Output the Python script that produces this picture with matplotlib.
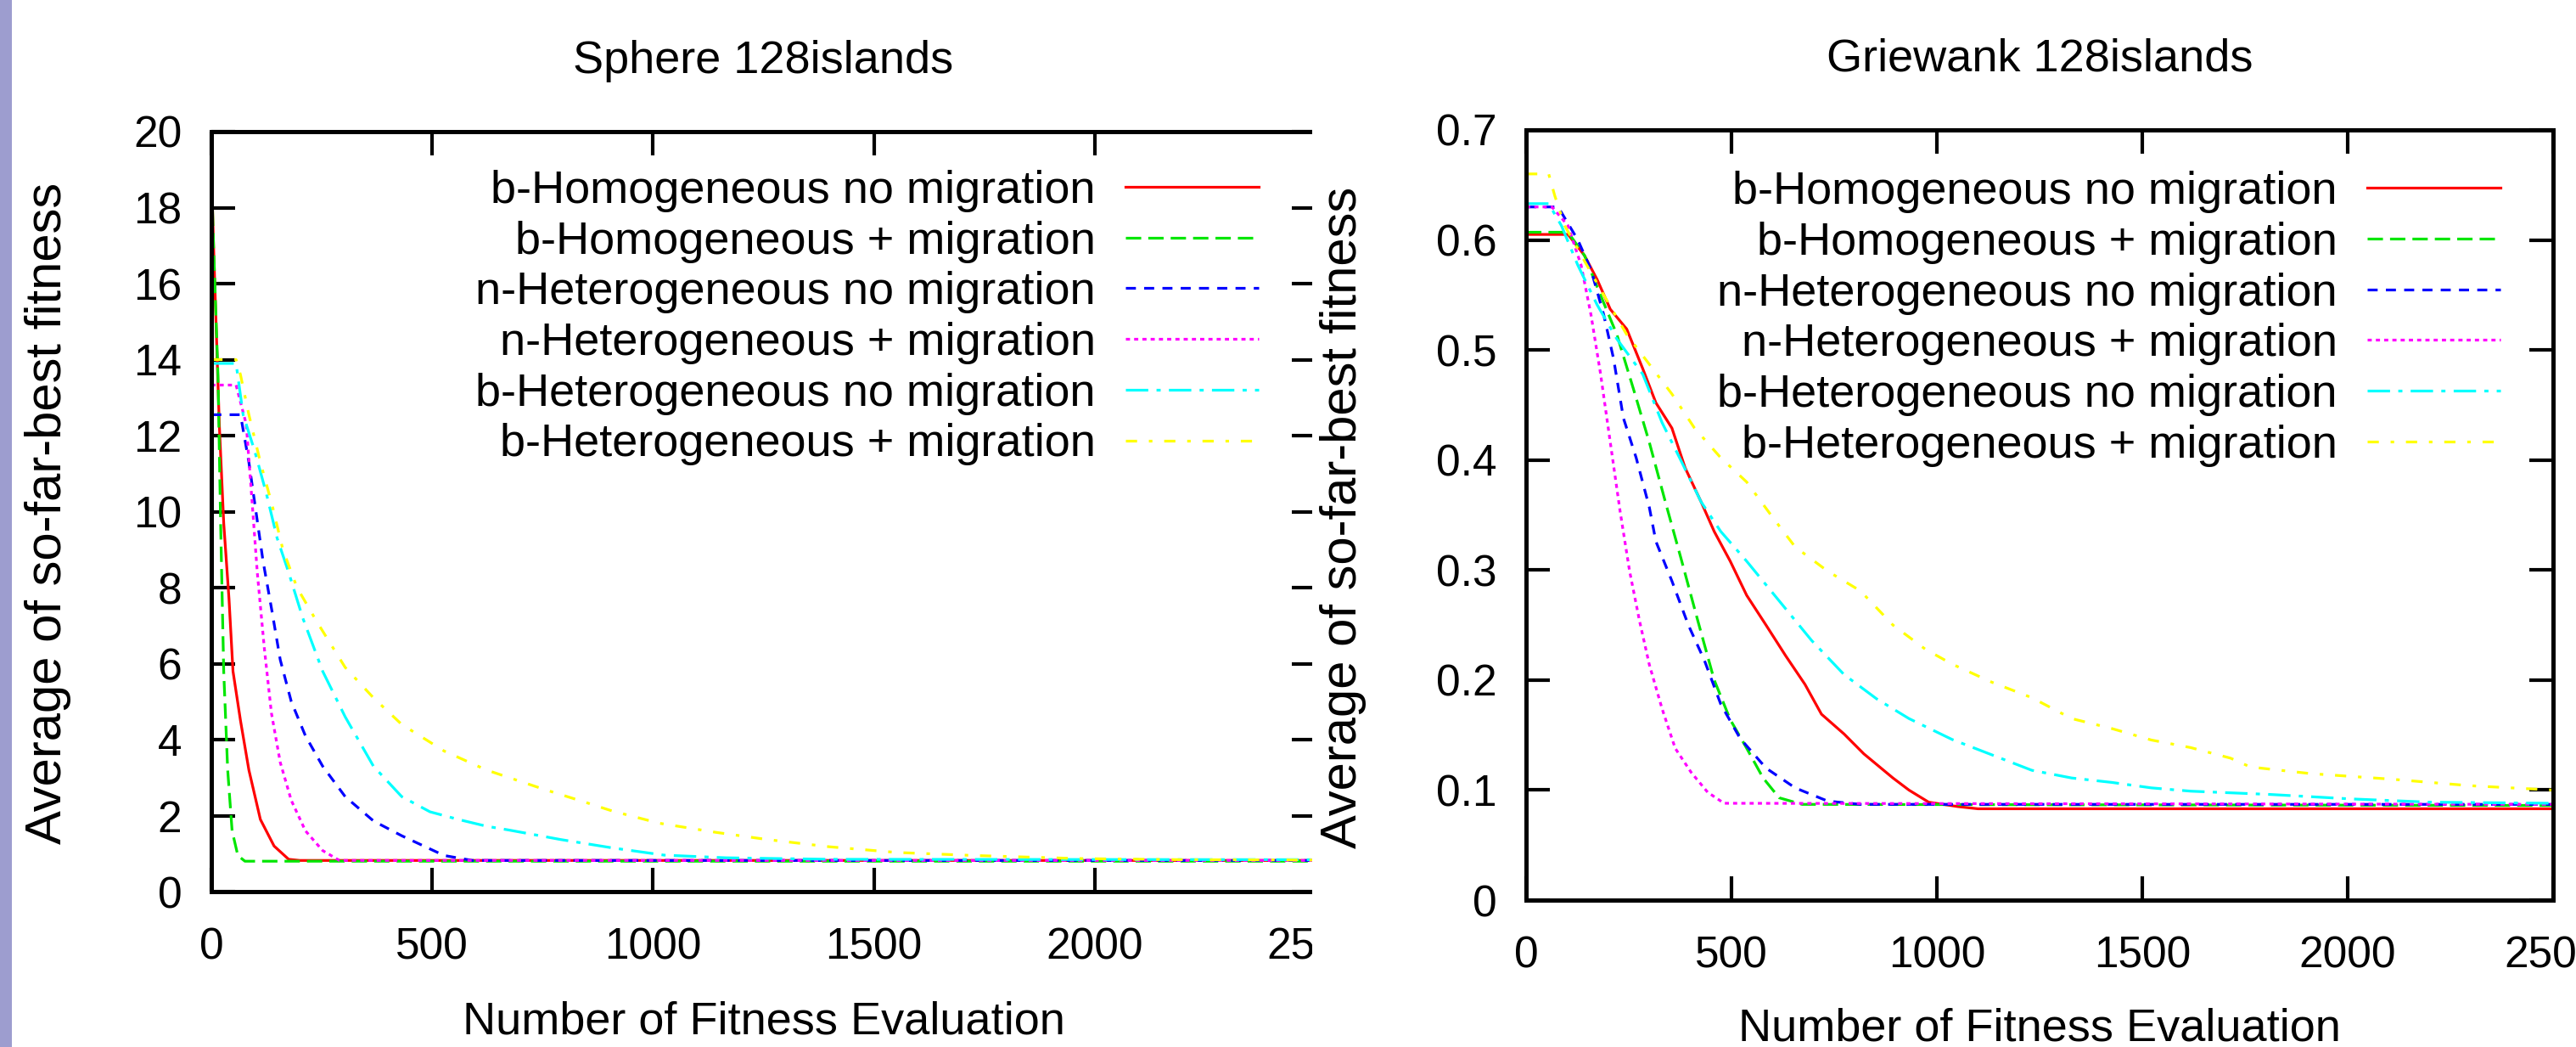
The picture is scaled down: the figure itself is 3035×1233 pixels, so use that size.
import matplotlib
matplotlib.use('Agg')
import matplotlib.pyplot as plt
from matplotlib.patches import Rectangle
from matplotlib.ticker import FuncFormatter

plt.rcParams['font.family'] = ['Liberation Sans', 'DejaVu Sans']
plt.rcParams['lines.scale_dashes'] = False

labels = ['b-Homogeneous no migration', 'b-Homogeneous + migration',
          'n-Heterogeneous no migration', 'n-Heterogeneous + migration',
          'b-Heterogeneous no migration', 'b-Heterogeneous + migration']

# --- Sphere 128islands ---
sph_x_bhom_nm = [0, 5, 18, 28, 40, 49, 66, 85, 111, 142, 175, 200, 2500]
sph_y_bhom_nm = [19.1, 17.0, 12.3, 9.7, 7.7, 5.8, 4.5, 3.2, 1.9, 1.2, 0.85, 0.82, 0.82]
sph_x_bhom_m = [0, 5, 15, 21, 28, 37, 47, 60, 76, 2500]
sph_y_bhom_m = [19.1, 17.0, 13.6, 9.7, 5.8, 3.2, 1.6, 0.95, 0.8, 0.8]
sph_x_nhet_nm = [0, 66, 85, 101, 117, 137, 156, 181, 213, 252, 303, 367, 431, 527, 591, 2500]
sph_y_nhet_nm = [12.55, 12.55, 11.3, 10.0, 8.7, 7.4, 6.1, 5.0, 4.1, 3.3, 2.5, 1.86, 1.47, 0.95, 0.82, 0.82]
sph_x_nhet_m = [0, 56, 79, 92, 104, 120, 136, 156, 181, 213, 252, 290, 2500]
sph_y_nhet_m = [13.33, 13.33, 12.3, 10.3, 8.4, 6.4, 4.7, 3.4, 2.4, 1.6, 1.08, 0.82, 0.82]
sph_x_bhet_nm = [0, 56, 72, 98, 124, 149, 175, 207, 252, 303, 367, 431, 495, 559, 623,
                 674, 791, 908, 1025, 1165, 1400, 2500]
sph_y_bhet_nm = [13.9, 13.9, 12.55, 11.6, 10.5, 9.3, 8.4, 7.2, 5.8, 4.6, 3.3, 2.5, 2.1, 1.9, 1.72,
                 1.62, 1.37, 1.15, 0.96, 0.89, 0.85, 0.84]
sph_x_bhet_m = [0, 56, 66, 85, 111, 137, 162, 194, 239, 303, 367, 431, 527, 623, 751, 847,
                908, 1014, 1142, 1259, 1399, 1552, 1727, 1961, 2200, 2500]
sph_y_bhet_m = [14.0, 14.0, 13.6, 12.55, 11.3, 10.2, 9.0, 8.0, 7.1, 5.9, 5.1, 4.4, 3.7, 3.2, 2.7, 2.35,
                2.12, 1.8, 1.56, 1.37, 1.18, 1.03, 0.95, 0.87, 0.84, 0.83]

# --- Griewank 128islands ---
grw_x_bhom_nm = [0, 102, 142, 173, 205, 245, 284, 316, 355, 387, 426, 458, 497, 537, 584, 632,
                 679, 719, 774, 822, 893, 932, 980, 1051, 1100, 2500]
grw_y_bhom_nm = [0.605, 0.605, 0.586, 0.564, 0.537, 0.519, 0.483, 0.452, 0.429, 0.393, 0.362, 0.335,
                 0.308, 0.277, 0.25, 0.222, 0.196, 0.169, 0.151, 0.133, 0.111, 0.10, 0.089, 0.085,
                 0.083, 0.083]
grw_x_bhom_m = [0, 102, 142, 181, 221, 261, 300, 339, 379, 418, 458, 497, 537, 577, 616, 672, 2500]
grw_y_bhom_m = [0.607, 0.607, 0.586, 0.55, 0.514, 0.465, 0.416, 0.362, 0.308, 0.254, 0.2, 0.164,
                0.138, 0.111, 0.093, 0.087, 0.086]
grw_x_nhet_nm = [0, 78, 126, 158, 189, 213, 237, 268, 300, 316, 355, 395, 434, 474, 521, 584,
                 655, 734, 814, 2500]
grw_y_nhet_nm = [0.630, 0.630, 0.60, 0.573, 0.532, 0.492, 0.438, 0.402, 0.357, 0.326, 0.29, 0.25,
                 0.218, 0.178, 0.147, 0.12, 0.102, 0.090, 0.087, 0.087]
grw_x_nhet_m = [0, 63, 102, 134, 158, 181, 205, 229, 252, 276, 300, 331, 363, 402, 442, 482, 2500]
grw_y_nhet_m = [0.630, 0.630, 0.613, 0.577, 0.532, 0.479, 0.416, 0.353, 0.299, 0.254, 0.214, 0.174,
                0.138, 0.116, 0.098, 0.088, 0.087]
grw_x_bhet_nm = [0, 55, 86, 126, 173, 221, 284, 331, 379, 426, 474, 537, 616, 695, 774, 853, 932,
                 1037, 1134, 1231, 1328, 1425, 1522, 1618, 1812, 2006, 2200, 2500]
grw_y_bhet_nm = [0.633, 0.633, 0.613, 0.577, 0.541, 0.51, 0.478, 0.434, 0.398, 0.362, 0.335, 0.308,
                 0.272, 0.236, 0.205, 0.183, 0.165, 0.146, 0.132, 0.118, 0.111, 0.107, 0.102, 0.099,
                 0.096, 0.092, 0.089, 0.088]
grw_x_bhet_m = [0, 55, 70, 94, 142, 189, 245, 300, 355, 410, 474, 537, 600, 655, 734, 814, 893,
                972, 1037, 1134, 1231, 1328, 1425, 1522, 1618, 1715, 1763, 1909, 2103, 2297, 2500]
grw_y_bhet_m = [0.66, 0.66, 0.64, 0.613, 0.581, 0.55, 0.514, 0.487, 0.46, 0.429, 0.402, 0.38, 0.348,
                0.321, 0.299, 0.281, 0.25, 0.228, 0.2145, 0.198, 0.184, 0.165, 0.156, 0.1455, 0.1386,
                0.129, 0.121, 0.115, 0.11, 0.104, 0.10]

x_ticks = [0, 500, 1000, 1500, 2000, 2500]
sph_y_ticks = [0, 2, 4, 6, 8, 10, 12, 14, 16, 18, 20]
grw_y_ticks = [0, 0.1, 0.2, 0.3, 0.4, 0.5, 0.6, 0.7]

# gnuplot-like line styles (dash lengths in points)
colors = ['#ff0000', '#00e600', '#0000ff', '#ff00ff', '#00ffff', '#ffff00']
styles = ['-', (0, (13, 6)), (0, (8.5, 7)), (0, (3.5, 3.5)),
          (0, (19, 7, 3.5, 7)), (0, (9.5, 10, 3, 10))]

W, H = 3035, 1233


def drawPanel(ax, series, ylim, yticks, title, ylab_pos, xlab_y, leg_anchor):
    """Один график в стиле gnuplot."""
    for (x, y), c, ls, lab in zip(series, colors, styles, labels):
        ax.plot(x, y, color=c, lw=2.3, linestyle=ls, label=lab)
    ax.set_xlim(0, 2500)
    ax.set_ylim(*ylim)
    ax.set_xticks(x_ticks)
    ax.set_yticks(yticks)
    ax.yaxis.set_major_formatter(FuncFormatter(lambda v, _: f'{v:g}'))
    ax.tick_params(direction='in', length=20, width=3, top=True, right=True, labelsize=37)
    ax.tick_params(axis='x', pad=30)
    ax.tick_params(axis='y', pad=25)
    for s in ax.spines.values():
        s.set_linewidth(3.6)
    ax.set_title(title, fontsize=39, pad=50)
    ax.set_xlabel('Number of Fitness Evaluation', fontsize=39, va='center')
    ax.xaxis.set_label_coords(0.5, xlab_y)
    ax.set_ylabel('Average of so-far-best fitness', fontsize=43, va='center', ha='center')
    ax.yaxis.set_label_coords(*ylab_pos)
    ax.legend(loc='upper right', bbox_to_anchor=leg_anchor, markerfirst=False, frameon=False,
              fontsize=39, handlelength=2.9, handletextpad=0.65, labelspacing=0.18,
              borderpad=0, borderaxespad=0)


def main():
    fig = plt.figure(figsize=(W / 100, H / 100), dpi=100)

    ax1 = fig.add_axes([249 / W, 1 - 1050 / H, 1301 / W, 895 / H])
    sph = [(sph_x_bhom_nm, sph_y_bhom_nm), (sph_x_bhom_m, sph_y_bhom_m),
           (sph_x_nhet_nm, sph_y_nhet_nm), (sph_x_nhet_m, sph_y_nhet_m),
           (sph_x_bhet_nm, sph_y_bhet_nm), (sph_x_bhet_m, sph_y_bhet_m)]
    drawPanel(ax1, sph, (0, 20), sph_y_ticks, 'Sphere 128islands',
              (-0.1483, 0.498), -0.171, (0.9485, 0.950))
    ax1.set_zorder(0)

    ax2 = fig.add_axes([1798 / W, 1 - 1060 / H, 1210 / W, 907 / H])
    grw = [(grw_x_bhom_nm, grw_y_bhom_nm), (grw_x_bhom_m, grw_y_bhom_m),
           (grw_x_nhet_nm, grw_y_nhet_nm), (grw_x_nhet_m, grw_y_nhet_m),
           (grw_x_bhet_nm, grw_y_bhet_nm), (grw_x_bhet_m, grw_y_bhet_m)]
    drawPanel(ax2, grw, (0, 0.7), grw_y_ticks, 'Griewank 128islands',
              (-0.1777, 0.497), -0.1665, (0.9488, 0.947))
    ax2.set_zorder(2)

    # левый график обрезан справа, как на слайде
    fig.patches.append(Rectangle((1546 / W, 0), (1798 - 1546) / W, 1, transform=fig.transFigure,
                                 facecolor='white', edgecolor='none', zorder=1))
    # фиолетовая полоса слайда
    fig.patches.append(Rectangle((0, 0), 14 / W, 1, transform=fig.transFigure,
                                 facecolor='#9d9dcf', edgecolor='none', zorder=5))

    fig.savefig('out.png', dpi=100)
    return 0


if __name__ == '__main__':
    main()
